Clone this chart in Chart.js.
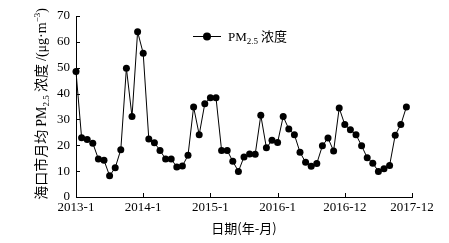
<!DOCTYPE html>
<html>
<head>
<meta charset="utf-8">
<script src="https://cdn.jsdelivr.net/npm/chart.js@4"></script>
<style>
  body { margin: 0; background: #fff; }
  #wrap { width: 449px; height: 243px; }
</style>
</head>
<body>
<div id="wrap"><canvas id="myChart" width="449" height="243"></canvas></div>
<script>
// 月份 2013-1 ~ 2017-12
const years = [2013, 2014, 2015, 2016, 2017];
const months = [];
years.forEach(y => { for (let m = 1; m <= 12; m++) months.push(y + '-' + m); });

// 海口市月均 PM2.5 浓度
const pm25 = [
  48.5, 22.9, 22.2, 20.8, 14.7, 14.2, 8.2, 11.3, 18.3, 49.8, 31.1, 63.9,
  55.6, 22.4, 21.0, 18.0, 14.7, 14.7, 11.6, 12.0, 16.1, 34.8, 24.1, 36.1,
  38.4, 38.4, 18.0, 18.0, 13.8, 9.9, 15.5, 16.6, 16.5, 31.6, 19.0, 21.9,
  21.1, 31.1, 26.3, 24.1, 17.3, 13.4, 11.9, 13.0, 19.8, 22.8, 17.8, 34.4,
  28.0, 26.0, 24.1, 19.8, 15.2, 13.1, 9.9, 10.9, 12.2, 23.9, 28.0, 34.8
];

// x轴刻度
const xTickPos = [0, 12, 24, 36, 48, 60];
const xTickLabels = ['2013-1', '2014-1', '2015-1', '2016-1', '2016-12', '2017-12'];
const yTicks = [0, 10, 20, 30, 40, 50, 60, 70];

const serif = '"Liberation Serif", "Noto Sans CJK SC", serif';
const cjk = '"Noto Sans CJK SC", "Liberation Serif", serif';

// 畫一段帶下標的文字, 回傳寬度
function drawParts(ctx, parts, x, y, measureOnly) {
  let w = 0;
  parts.forEach(p => {
    ctx.font = p.font;
    if (!measureOnly) ctx.fillText(p.t, x + w, y + (p.dy || 0));
    w += ctx.measureText(p.t).width;
  });
  return w;
}

const extras = {
  id: 'extras',
  afterDraw(chart) {
    const ctx = chart.ctx;
    const xs = chart.scales.x, ys = chart.scales.y;
    const area = chart.chartArea;
    ctx.save();
    ctx.strokeStyle = '#000';
    ctx.lineWidth = 1;
    // 向內刻度
    ctx.beginPath();
    xTickPos.forEach(v => {
      const px = Math.round(xs.getPixelForValue(v)) + 0.5;
      ctx.moveTo(px, area.bottom);
      ctx.lineTo(px, area.bottom - 4);
    });
    yTicks.forEach(v => {
      const py = Math.round(ys.getPixelForValue(v)) + 0.5;
      ctx.moveTo(area.left, py);
      ctx.lineTo(area.left + 4, py);
    });
    ctx.stroke();

    ctx.fillStyle = '#000';
    ctx.textBaseline = 'alphabetic';

    // x轴标题
    ctx.font = '13px ' + cjk;
    ctx.textAlign = 'center';
    ctx.fillText('日期(年-月)', 244, 233);
    ctx.textAlign = 'left';

    // y轴标题 (旋转)
    const yParts = [
      { t: '海口市月均 ', font: '14px ' + cjk },
      { t: 'PM', font: '14px ' + serif },
      { t: '2.5', font: '9px ' + serif, dy: 3 },
      { t: ' 浓度 ', font: '14px ' + cjk },
      { t: '/(μg·m', font: '14px "Liberation Serif", serif' },
      { t: '−3', font: '9px ' + serif, dy: -6 },
      { t: ')', font: '14px "Liberation Serif", serif' }
    ];
    const tw = drawParts(ctx, yParts, 0, 0, true);
    ctx.save();
    ctx.translate(46, 104);
    ctx.rotate(-Math.PI / 2);
    drawParts(ctx, yParts, -tw / 2, 0);
    ctx.restore();

    // 图例
    ctx.beginPath();
    ctx.moveTo(193, 36.5);
    ctx.lineTo(221, 36.5);
    ctx.stroke();
    ctx.beginPath();
    ctx.arc(207, 36.5, 4, 0, Math.PI * 2);
    ctx.fill();
    drawParts(ctx, [
      { t: 'PM', font: '13px ' + serif },
      { t: '2.5', font: '9px ' + serif, dy: 3 },
      { t: ' 浓度', font: '13px ' + cjk }
    ], 228, 41);
    ctx.restore();
  }
};

const config = {
  type: 'line',
  data: {
    datasets: [{
      label: 'PM2.5 浓度',
      data: pm25.map((v, i) => ({ x: i, y: v })),
      borderColor: '#000',
      borderWidth: 1,
      backgroundColor: '#000',
      pointBackgroundColor: '#000',
      pointBorderWidth: 0,
      pointRadius: 3.5,
      tension: 0,
      clip: false
    }]
  },
  options: {
    responsive: false,
    animation: false,
    layout: { padding: { top: 16, right: 37, left: 0, bottom: 0 } },
    plugins: {
      legend: { display: false },
      tooltip: { enabled: false }
    },
    scales: {
      x: {
        type: 'linear',
        min: 0,
        max: 60,
        afterBuildTicks: s => { s.ticks = xTickPos.map(v => ({ value: v })); },
        afterFit: s => { s.height = 46; },
        grid: { display: false, drawTicks: false },
        border: { display: true, color: '#000', width: 1 },
        ticks: {
          maxRotation: 0,
          autoSkip: false,
          padding: 3,
          color: '#000',
          font: { family: serif, size: 13 },
          callback: (v, i) => xTickLabels[i]
        }
      },
      y: {
        min: 0,
        max: 70,
        afterBuildTicks: s => { s.ticks = yTicks.map(v => ({ value: v })); },
        afterFit: s => { s.width = 76; },
        grid: { display: false, drawTicks: false },
        border: { display: true, color: '#000', width: 1 },
        ticks: {
          padding: 6,
          color: '#000',
          font: { family: serif, size: 13 }
        }
      }
    }
  },
  plugins: [extras]
};

const myChart = new Chart(document.getElementById('myChart'), config);
</script>
</body>
</html>
